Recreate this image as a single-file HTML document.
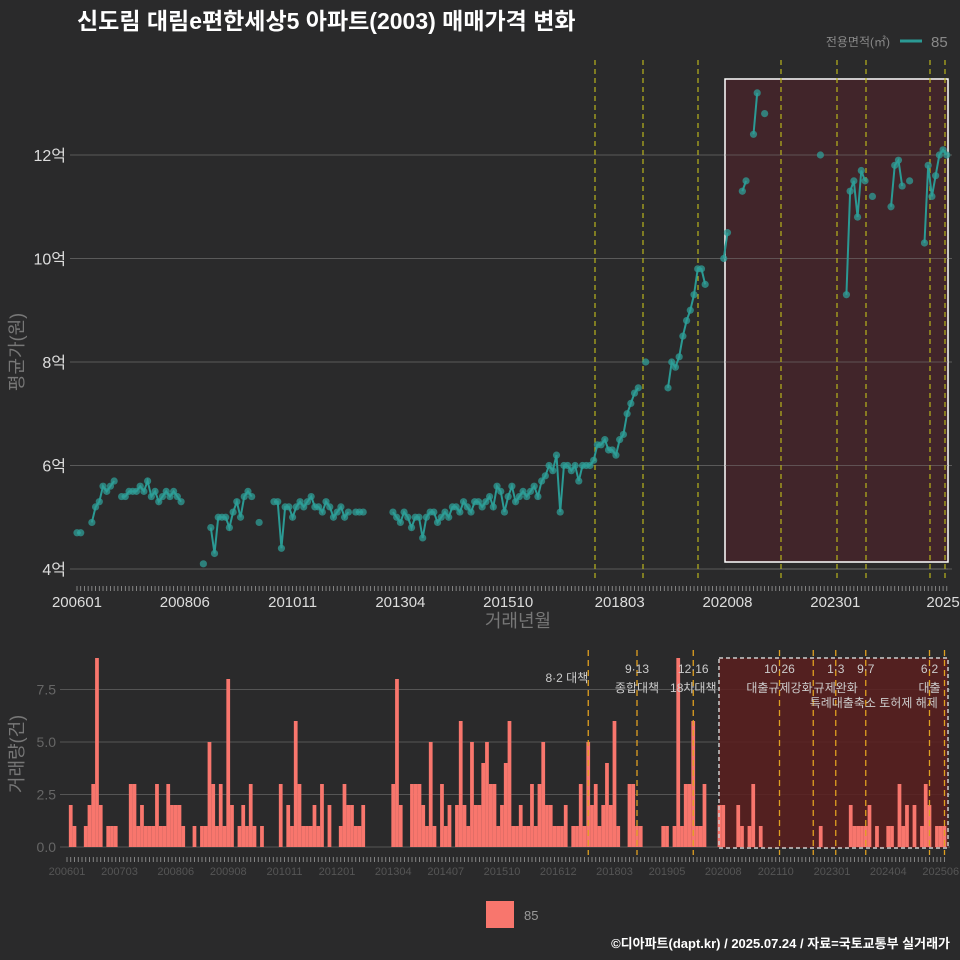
<!DOCTYPE html>
<html><head><meta charset="utf-8">
<style>
body{margin:0;background:#2a2a2b;}
svg{display:block;font-family:"Liberation Sans","Noto Sans CJK KR",sans-serif;}
</style></head>
<body>
<svg id="c" width="960" height="960" viewBox="0 0 960 960" xmlns="http://www.w3.org/2000/svg">
<rect width="960" height="960" fill="#2a2a2b"/>
<text x="77" y="29" fill="#ffffff" font-size="23" font-weight="bold" font-family="Liberation Sans, Noto Sans CJK KR, sans-serif">신도림 대림e편한세상5 아파트(2003) 매매가격 변화</text>
<g>
<text x="890" y="46" fill="#888" font-size="12" text-anchor="end">전용면적(㎡)</text>
<line x1="900" y1="41" x2="922" y2="41" stroke="#2b9a94" stroke-width="3"/>
<text x="931" y="47" fill="#888" font-size="15">85</text>
</g>
<text transform="translate(23,352) rotate(-90)" fill="#777" font-size="18" text-anchor="middle">평균가(원)</text>
<text x="518" y="627" fill="#777" font-size="18" text-anchor="middle">거래년월</text>
<text transform="translate(23,754) rotate(-90)" fill="#777" font-size="18" text-anchor="middle">거래량(건)</text>
<g id="topPanel"></g>
<g id="botPanel"></g>
<rect x="486" y="901" width="28" height="27" fill="#f8766d"/>
<text x="524" y="920" fill="#999" font-size="13">85</text>
<text x="950" y="948" fill="#ffffff" font-size="13" font-weight="bold" text-anchor="end">©디아파트(dapt.kr) / 2025.07.24 / 자료=국토교통부 실거래가</text>
</svg>
<script>
const startYear = 2006;
const priceValues = [
4.7,4.7,null,null,4.9,5.2,5.3,5.6,5.5,5.6,5.7,null,
5.4,5.4,5.5,5.5,5.5,5.6,5.5,5.7,5.4,5.5,5.3,5.4,
5.5,5.4,5.5,5.4,5.3,null,null,null,null,null,4.1,null,
4.8,4.3,5.0,5.0,5.0,4.8,5.1,5.3,5.0,5.4,5.5,5.4,
null,4.9,null,null,null,5.3,5.3,4.4,5.2,5.2,5.0,5.2,
5.3,5.2,5.3,5.4,5.2,5.2,5.1,5.3,5.2,5.0,5.1,5.2,
5.0,5.1,null,5.1,5.1,5.1,null,null,null,null,null,null,
null,5.1,5.0,4.9,5.1,5.0,4.8,5.0,5.0,4.6,5.0,5.1,
5.1,4.9,5.0,5.1,5.0,5.2,5.2,5.1,5.3,5.2,5.1,5.3,
5.3,5.2,5.3,5.4,5.2,5.6,5.5,5.1,5.4,5.6,5.3,5.4,
5.5,5.4,5.5,5.6,5.4,5.7,5.8,6.0,5.9,6.2,5.1,6.0,
6.0,5.9,6.0,5.7,6.0,6.0,6.0,6.1,6.4,6.4,6.5,6.3,
6.3,6.2,6.5,6.6,7.0,7.2,7.4,7.5,null,8.0,null,null,
null,null,null,7.5,8.0,7.9,8.1,8.5,8.8,9.0,9.3,9.8,
9.8,9.5,null,null,null,null,10.0,10.5,null,null,null,11.3,
11.5,null,12.4,13.2,null,12.8,null,null,null,null,null,null,
null,null,null,null,null,null,null,null,12.0,null,null,null,
null,null,null,9.3,11.3,11.5,10.8,11.7,11.5,null,11.2,null,
null,null,null,11.0,11.8,11.9,11.4,null,11.5,null,null,null,
10.3,11.8,11.2,11.6,12.0,12.1,12.0];
const volumeValues = [
0,2,1,0,0,1,2,3,9,2,0,1,
1,1,0,0,0,3,3,1,2,1,1,1,
3,1,1,3,2,2,2,1,0,0,1,0,
1,1,5,3,1,3,1,8,2,0,1,2,
1,3,1,0,1,0,0,0,0,3,0,2,
1,6,3,1,1,1,2,1,3,0,2,0,
0,1,3,2,2,1,1,2,0,0,0,0,
0,0,0,3,8,2,0,0,3,3,3,2,
1,5,1,0,3,1,2,0,2,6,2,1,
5,2,2,4,5,3,3,1,2,4,6,1,
1,2,1,1,3,1,3,5,2,2,1,1,
1,2,0,1,1,3,1,5,2,3,1,2,
4,2,6,1,0,0,3,3,1,1,0,0,
0,0,0,1,1,0,1,9,1,3,3,6,
1,1,3,0,0,0,2,2,0,0,0,2,
1,0,1,3,0,1,0,0,0,0,0,0,
0,0,0,0,0,0,0,0,0,1,0,0,
0,0,0,0,0,2,1,1,1,1,2,0,
1,0,0,1,1,0,3,1,2,0,2,0,
1,3,2,0,1,1,1];
const priceTicks = [4,6,8,10,12];
const priceTickLabels = ["4억","6억","8억","10억","12억"];
const topXLabelMonths = [0,29,58,87,116,146,175,204,233];
const topXLabels = ["200601","200806","201011","201304","201510","201803","202008","202301","2025"];
const volTicks = [0,2.5,5,7.5];
const volTickLabels = ["0.0","2.5","5.0","7.5"];
const botXLabelMonths = [0,14,29,43,58,72,87,101,116,131,146,160,175,189,204,219,233];
const botXLabels = ["200601","200703","200806","200908","201011","201201","201304","201407","201510","201612","201803","201905","202008","202110","202301","202404","202506"];
const policyMonths = [139,152,167,190,199,205,213,230,234];
const policyDates = ["8·2 대책","9·13","12·16","10·26","","1·3","9·7","6·2",""];
const policyNames = ["","종합대책","18차대책","대출규제강화","","규제완화","특례대출축소 토허제 해제","대출",""];

const NS="http://www.w3.org/2000/svg";
function mk(parent,tag,attrs){const e=document.createElementNS(NS,tag);for(const k in attrs)e.setAttribute(k,attrs[k]);parent.appendChild(e);return e;}
const topG=document.getElementById('topPanel'), botG=document.getElementById('botPanel');
const tx=i=>77+i*3.717, ty=v=>569-(v-4)*51.75;
const bx=i=>67+i*3.75, by=v=>847-v*21;

priceTicks.forEach((t,k)=>{
  const l=mk(topG,'line',{x1:70,x2:952,y1:ty(t),y2:ty(t),stroke:'#5a5a5a','stroke-width':1});
  
  
  const s=mk(topG,'text',{x:66,y:ty(t)+6,fill:'#ddd','font-size':16,'text-anchor':'end'});
  s.textContent=priceTickLabels[k];
  
  
});
const rb=mk(topG,'rect',{x:725,y:79,width:223,height:483,fill:'#45242a','fill-opacity':0.85,stroke:'#fff','stroke-width':1.5});


priceTicks.forEach(t=>{const l=mk(topG,'line',{x1:725,x2:948,y1:ty(t),y2:ty(t),stroke:'#777','stroke-opacity':0.5});

});
const topPolicyX=[595,643,698,781,837,866,930,945];
topPolicyX.forEach(x=>{const l=mk(topG,'line',{x1:x,x2:x,y1:60,y2:578,stroke:'#b8b41c','stroke-width':1.2,'stroke-dasharray':'5,4'});

});
for(let i=0;i<235;i++){const l=mk(topG,'line',{x1:tx(i),x2:tx(i),y1:586,y2:591,stroke:'#999','stroke-width':0.8});

}
topXLabelMonths.forEach((m,k)=>{const s=mk(topG,'text',{x:tx(m),y:607,fill:'#ddd','font-size':15,'text-anchor':'middle'});
s.textContent=topXLabels[k];

});
let seg=[];
function flush(){ if(seg.length>1){const p=mk(topG,'polyline',{points:seg.join(' '),fill:'none',stroke:'#2b9a94','stroke-width':2});

} seg=[]; }
priceValues.forEach((v,i)=>{ if(v===null){flush();} else seg.push(tx(i)+','+ty(v)); });
flush();
priceValues.forEach((v,i)=>{ if(v===null) return;
  const c=mk(topG,'circle',{cx:tx(i),cy:ty(v),r:3.6,fill:'#2f9e97','fill-opacity':0.75});
  
  
});

volTicks.forEach((t,k)=>{
  const l=mk(botG,'line',{x1:60,x2:950,y1:by(t),y2:by(t),stroke:'#555','stroke-width':1});
  
  
  const s=mk(botG,'text',{x:56,y:by(t)+5,fill:'#666','font-size':14,'text-anchor':'end'});
  s.textContent=volTickLabels[k];
  
  
});
const bb=mk(botG,'rect',{x:719,y:658,width:229,height:190,fill:'#5a1e1e','fill-opacity':0.85});


volumeValues.forEach((v,i)=>{ if(!v) return;
  const r=mk(botG,'rect',{x:bx(i)-1.9,y:by(v),width:3.75,height:v*21,fill:'#f8766d'});
  
  
});
const bb2=mk(botG,'rect',{x:719,y:658,width:229,height:190,fill:'none',stroke:'#ccc','stroke-width':1.5,'stroke-dasharray':'4,3'});


policyMonths.forEach((m,k)=>{
  const x=bx(m);
  const l=mk(botG,'line',{x1:x,x2:x,y1:650,y2:855,stroke:'#e0a020','stroke-width':1.3,'stroke-dasharray':'6,4'});
  
  
  if(policyDates[k]){const s=mk(botG,'text',{x:x,y:k===0?682:673,fill:'#ccc','font-size':12,'text-anchor':k===0?'end':'middle'});
  s.textContent=policyDates[k];
  
  }
  if(policyNames[k]){const s=mk(botG,'text',{x:k===6?x+8:x,y:k===6?707:692,fill:'#ccc','font-size':12,'text-anchor':'middle'});
  s.textContent=policyNames[k];
  
  }
});
for(let i=0;i<235;i++){const l=mk(botG,'line',{x1:bx(i),x2:bx(i),y1:857,y2:862,stroke:'#999','stroke-width':0.8});

}
botXLabelMonths.forEach((m,k)=>{const s=mk(botG,'text',{x:bx(m),y:875,fill:'#555','font-size':11,'text-anchor':'middle'});
s.textContent=botXLabels[k];

});
</script>
</body></html>
